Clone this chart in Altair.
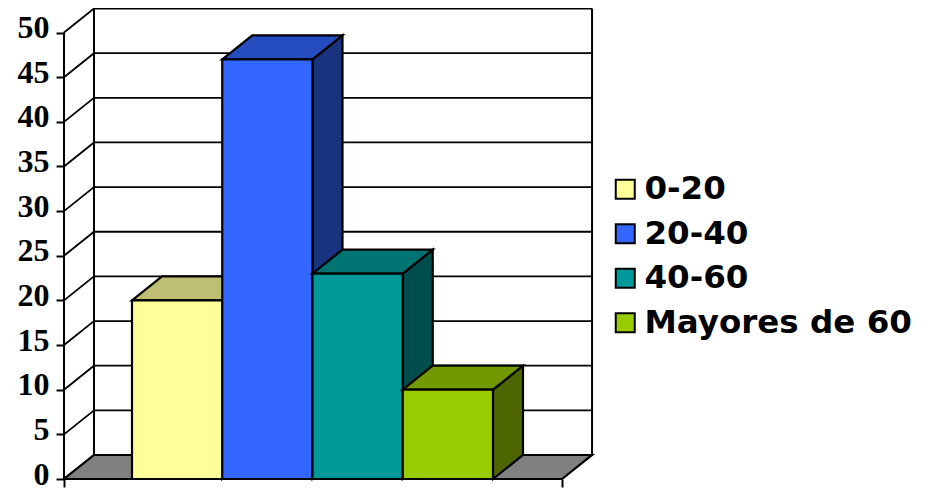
import altair as alt
import pandas as pd

categories = ["0-20", "20-40", "40-60", "Mayores de 60"]
values = [20, 47, 23, 10]
front_colors = ["#FFFF99", "#3366FF", "#009999", "#99CC00"]
top_colors = ["#BFBF73", "#264DBF", "#007373", "#739900"]
side_colors = ["#7F7F4D", "#19337F", "#004D4D", "#4D6600"]
ticks = list(range(0, 55, 5))

X_MIN, X_FRONT_END, X_MAX = -0.7535, 4.765, 5.097
DX, DY = 0.3324, 2.69
Y_MAX = 50 + DY
LINE = "#000000"
xs = alt.Scale(domain=[X_MIN, X_MAX], nice=False, zero=False)
ys = alt.Scale(domain=[0, Y_MAX + 0.06], nice=False, zero=False)
x_axis = alt.Axis(values=[X_MIN, X_FRONT_END], labels=False, ticks=True, tickSize=8, tickWidth=2,
                  tickColor=LINE, domain=False, grid=False, title=None)
y_axis = alt.Axis(values=ticks, tickSize=8, tickWidth=2, tickColor=LINE, domain=False, grid=False,
                  title=None, labelFont="Liberation Serif", labelFontWeight="bold", labelFontSize=32,
                  labelColor="#000000", labelPadding=7, labelOffset=-5)


def X():
    return alt.X("x:Q", scale=xs, axis=x_axis)


def Y():
    return alt.Y("y:Q", scale=ys, axis=y_axis)


Y2 = alt.Y2("y2:Q")

# gridlines
g = []
for v in ticks:
    g += [{"g": v, "o": 0, "x": X_MIN, "y": v},
          {"g": v, "o": 1, "x": X_MIN + DX, "y": v + DY},
          {"g": v, "o": 2, "x": X_MIN + DX + (X_FRONT_END - X_MIN), "y": v + DY}]
grid = alt.Chart(pd.DataFrame(g)).mark_line(color=LINE, strokeWidth=1.8).encode(
    x=X(), y=Y(), detail="g:N", order="o:Q")

walls_rows = pd.DataFrame([
    {"w": "front", "x": X_MIN, "y": 0},
    {"w": "front", "x": X_MIN, "y": 50},
    {"w": "back", "x": X_MIN + DX, "y": DY},
    {"w": "back", "x": X_MIN + DX, "y": 50 + DY},
    {"w": "right", "x": X_FRONT_END + DX, "y": DY},
    {"w": "right", "x": X_FRONT_END + DX, "y": 50 + DY},
])
walls = alt.Chart(walls_rows).mark_line(color=LINE, strokeWidth=2).encode(x=X(), y=Y(), detail="w:N")

floor_rows = pd.DataFrame([
    {"x": X_MIN, "y": 0, "y2": 0},
    {"x": X_MIN + DX, "y": 0, "y2": DY},
    {"x": X_FRONT_END, "y": 0, "y2": DY},
    {"x": X_FRONT_END + DX, "y": DY, "y2": DY},
])
floor = alt.Chart(floor_rows).mark_area(color="#808080", stroke=LINE, strokeWidth=2.2).encode(x=X(), y=Y(), y2=Y2)

layers = [grid, walls, floor]
for i, (c, v) in enumerate(zip(categories, values)):
    x0, x1 = i, i + 1
    side = pd.DataFrame({"x": [x1, x1 + DX], "y": [0, DY], "y2": [v, v + DY]})
    top = pd.DataFrame({"x": [x0, x0 + DX, x1, x1 + DX], "y": [v, v, v, v + DY],
                        "y2": [v, v + DY, v + DY, v + DY]})
    front = pd.DataFrame({"x": [x0], "x2": [x1], "y": [0], "y2": [v], "c": [c]})
    layers.append(alt.Chart(side).mark_area(color=side_colors[i], stroke=LINE, strokeWidth=2.2).encode(x=X(), y=Y(), y2=Y2))
    layers.append(alt.Chart(top).mark_area(color=top_colors[i], stroke=LINE, strokeWidth=2.2).encode(x=X(), y=Y(), y2=Y2))
    layers.append(alt.Chart(front).mark_rect(stroke=LINE, strokeWidth=2.2).encode(
        x=X(), x2="x2:Q", y=Y(), y2=Y2,
        color=alt.Color("c:N", scale=alt.Scale(domain=categories, range=front_colors),
                        legend=alt.Legend(orient="none", legendX=545, legendY=165, title=None,
                                          labelFont="DejaVu Sans", labelFontWeight="bold", labelFontSize=32.5,
                                          labelColor="#000000", labelOffset=3, symbolType="square",
                                          symbolSize=361, symbolStrokeColor=LINE, symbolStrokeWidth=2,
                                          rowPadding=11.5, labelLimit=400)),
    ))

chart = alt.layer(*layers).properties(
    width=528, height=471,
    padding={"left": 56, "right": 332, "top": 0, "bottom": 9},
    autosize=alt.AutoSizeParams(type="none"),
    background="white",
).configure_view(stroke=None)

chart.save("out.html", embed_options={"renderer": "svg", "actions": False})
